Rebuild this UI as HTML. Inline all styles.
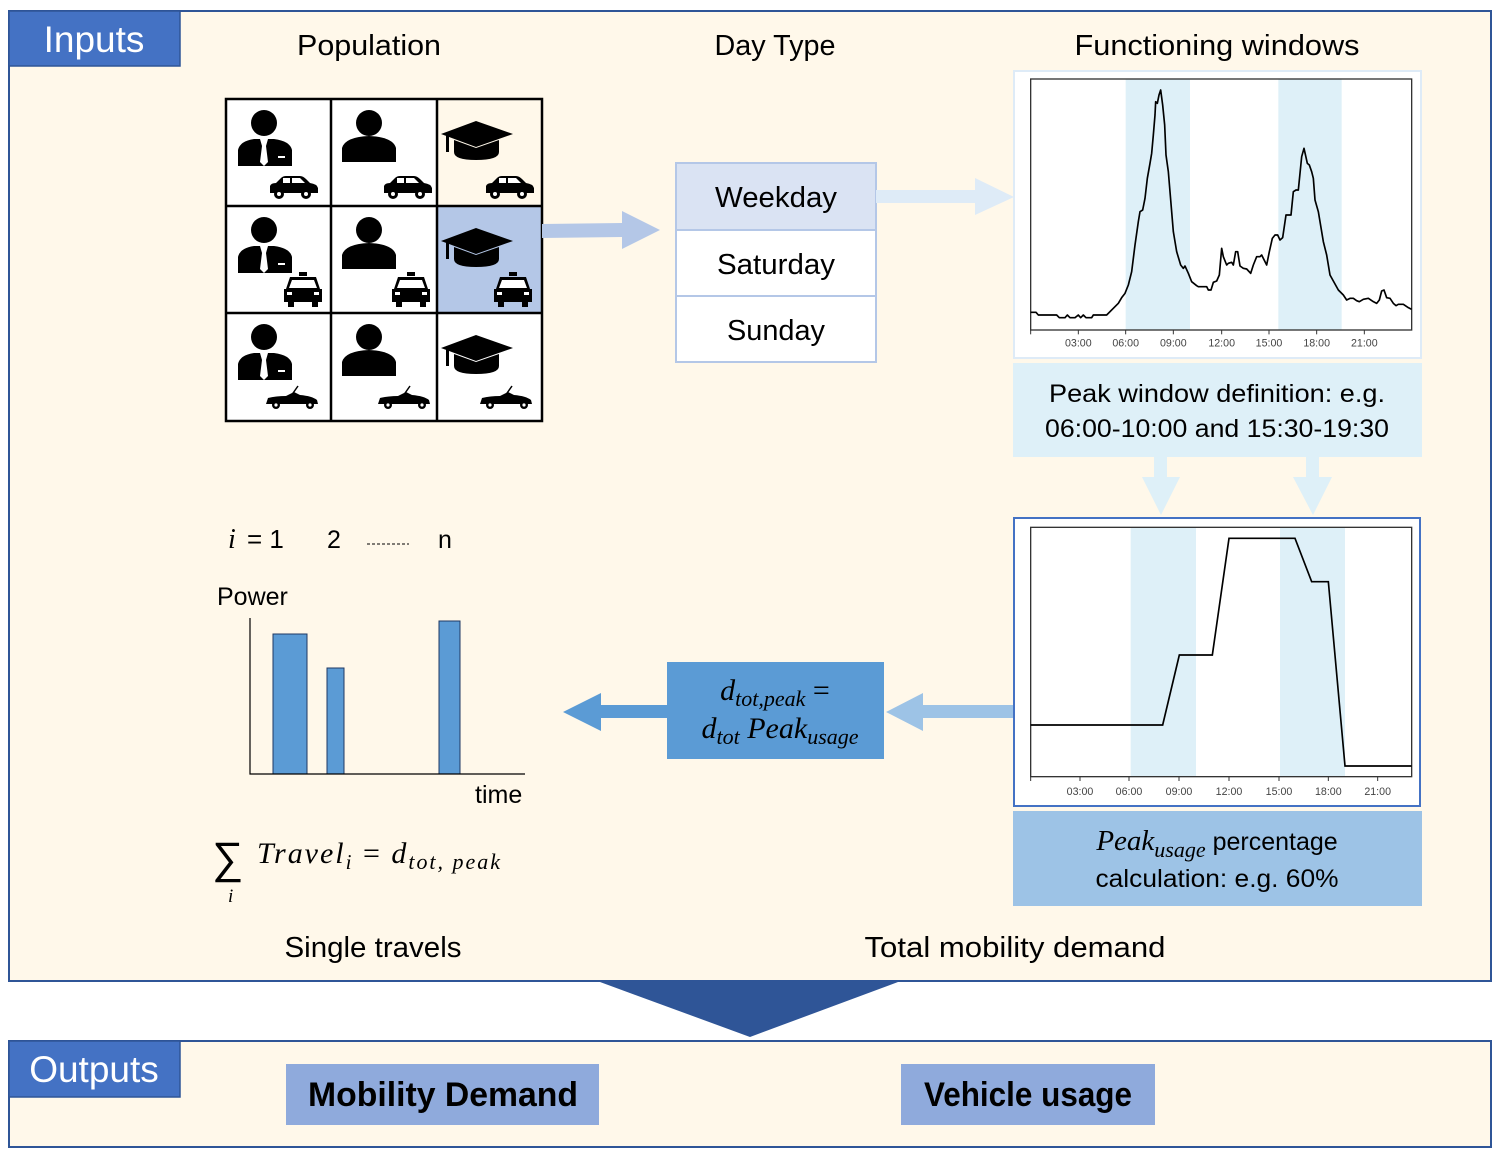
<!DOCTYPE html>
<html><head><meta charset="utf-8"><style>
html,body{margin:0;padding:0;background:#fff;}
svg{display:block;}
text{font-family:"Liberation Sans",sans-serif;}
.m{font-family:"Liberation Serif",serif;font-style:italic;}
</style></head><body>
<svg width="1493" height="1149" viewBox="0 0 1493 1149" xmlns="http://www.w3.org/2000/svg">
<defs>
<g id="biz"><circle cx="38" cy="25" r="13"/><path d="M12 68 L12 52 Q14 43 28 41 L34 41 L36 48 L34 64 L38 68 L42 64 L40 48 L42 41 L48 41 Q64 43 66 52 L66 68 Z"/><rect x="52" y="58" width="7" height="2" fill="#fff"/></g>
<g id="per"><circle cx="38" cy="25" r="13"/><path d="M11 64 L11 50 Q14 39 38 38 Q62 39 65 50 L65 64 Z"/></g>
<g id="cap"><polygon points="5,36 40,23 77,36 40,49"/><rect x="10" y="37" width="3" height="17"/><path d="M18 42 L40 50 L63 42 L63 54 Q63 62 40 62 Q18 62 18 54 Z"/></g>
<g id="car"><path d="M46 95 L46 88 Q47 85 52 85 L57 80 Q59 78 62 78 L76 78 Q79 78 82 81 L86 85 Q93 86 94 90 L94 95 Z"/><circle cx="55" cy="96" r="5"/><circle cx="82" cy="96" r="5"/><circle cx="55" cy="96" r="2" fill="#fff"/><circle cx="82" cy="96" r="2" fill="#fff"/><rect x="59" y="80" width="7" height="5" fill="#fff"/><path d="M68 80 L76 80 L81 85 L68 85Z" fill="#fff"/></g>
<g id="taxi"><rect x="73" y="67" width="8" height="4"/><path d="M64 72 L90 72 L94 84 L96 84 L96 97 L58 97 L58 84 L60 84 Z"/><rect x="62" y="96" width="6" height="6"/><rect x="86" y="96" width="6" height="6"/><path d="M66 75 L88 75 L91 83 L63 83 Z" fill="#fff"/><rect x="61" y="87" width="5" height="3" fill="#fff"/><rect x="88" y="87" width="5" height="3" fill="#fff"/></g>
<g id="conv"><path d="M40 92 L42 86 Q50 84 60 84 L68 80 L74 83 Q86 84 91 88 L92 92 Z"/><line x1="65" y1="84" x2="72" y2="74" stroke="#000" stroke-width="1.5"/><circle cx="50" cy="93" r="4"/><circle cx="84" cy="93" r="4"/><circle cx="50" cy="93" r="1.6" fill="#fff"/><circle cx="84" cy="93" r="1.6" fill="#fff"/></g>
</defs>

<rect x="9" y="11" width="1482" height="970" fill="#FFF8EA" stroke="#2F5597" stroke-width="2"/>
<rect x="9" y="11" width="171" height="55" fill="#4472C4" stroke="#2F5597" stroke-width="1.5"/>
<text x="94" y="52" font-size="37" fill="#fff" text-anchor="middle">Inputs</text>

<text x="369" y="55" font-size="29" text-anchor="middle" textLength="144" lengthAdjust="spacingAndGlyphs">Population</text>
<text x="775" y="55" font-size="29" text-anchor="middle" textLength="121" lengthAdjust="spacingAndGlyphs">Day Type</text>
<text x="1217" y="55" font-size="29" text-anchor="middle" textLength="285" lengthAdjust="spacingAndGlyphs">Functioning windows</text>

<rect x="226" y="99" width="316" height="322" fill="#fff"/>
<rect x="437" y="99" width="105" height="107" fill="#FFF8EA"/>
<rect x="437" y="206" width="105" height="107" fill="#B4C7E7"/>
<g stroke="#000" stroke-width="2.5" fill="none">
<rect x="226" y="99" width="316" height="322"/>
<line x1="331" y1="99" x2="331" y2="421"/><line x1="437" y1="99" x2="437" y2="421"/>
<line x1="226" y1="206" x2="542" y2="206"/><line x1="226" y1="313" x2="542" y2="313"/>
</g>
<g fill="#000">
<use href="#biz" transform="translate(226,98)"/><use href="#per" transform="translate(331,98)"/><use href="#cap" transform="translate(436,98)"/>
<use href="#car" transform="translate(224,98)"/><use href="#car" transform="translate(338,98)"/><use href="#car" transform="translate(440,98)"/>
<use href="#biz" transform="translate(226,205)"/><use href="#per" transform="translate(331,205)"/><use href="#cap" transform="translate(436,205)"/>
<use href="#taxi" transform="translate(226,205)"/><use href="#taxi" transform="translate(334,205)"/><use href="#taxi" transform="translate(436,205)"/>
<use href="#biz" transform="translate(226,312)"/><use href="#per" transform="translate(331,312)"/><use href="#cap" transform="translate(436,312)"/>
<use href="#conv" transform="translate(226,312)"/><use href="#conv" transform="translate(338,312)"/><use href="#conv" transform="translate(440,312)"/>
</g>
<polygon points="542,224 622,223 622,211 660,230 622,249 622,237 542,238" fill="#B4C7E7"/>

<rect x="676" y="163" width="200" height="67" fill="#DAE3F3"/>
<rect x="676" y="230" width="200" height="132" fill="#fff"/>
<g stroke="#B4C7E7" stroke-width="2" fill="none"><rect x="676" y="163" width="200" height="199"/><line x1="676" y1="230" x2="876" y2="230"/><line x1="676" y1="296" x2="876" y2="296"/></g>
<text x="776" y="207" font-size="29" text-anchor="middle" textLength="122" lengthAdjust="spacingAndGlyphs">Weekday</text>
<text x="776" y="274" font-size="29" text-anchor="middle" textLength="118" lengthAdjust="spacingAndGlyphs">Saturday</text>
<text x="776" y="340" font-size="29" text-anchor="middle" textLength="98" lengthAdjust="spacingAndGlyphs">Sunday</text>
<polygon points="876,190 975,190 975,178 1014,197 975,215 975,203 876,203" fill="#DEEBF7"/>

<rect x="1014" y="71" width="407" height="287" fill="#fff" stroke="#DEEBF7" stroke-width="2"/>
<svg x="1010" y="65" width="415" height="300" viewBox="0 0 1245 900">
<rect x="347" y="42" width="193" height="753" fill="#DEF0F8"/>
<rect x="805" y="42" width="190" height="753" fill="#DEF0F8"/>
<rect x="62" y="42" width="1143" height="753" fill="none" stroke="#333" stroke-width="4"/>
<polyline fill="none" stroke="#000" stroke-width="5" stroke-linejoin="round" points="62,742 78,742 85,750 140,750 148,758 165,758 172,750 180,758 195,758 205,750 212,758 220,750 228,758 245,758 250,750 290,750 310,730 325,715 335,698 345,685 355,660 365,620 375,540 385,470 390,440 398,435 405,400 412,340 420,295 425,265 430,210 435,150 437,110 442,115 447,90 452,75 458,120 464,180 468,270 475,320 480,380 490,500 500,560 512,600 520,610 525,603 535,625 545,650 560,662 565,665 590,665 595,675 603,675 610,652 620,648 628,630 635,550 640,575 650,600 655,595 665,592 670,600 677,560 683,560 690,603 700,610 710,612 722,625 730,600 740,575 750,575 755,570 760,580 770,600 778,560 787,520 795,510 803,510 810,525 818,518 828,450 843,450 850,380 858,375 865,375 875,275 882,250 892,295 898,300 905,320 910,340 915,405 925,440 940,530 950,570 960,630 970,648 985,675 1000,690 1010,705 1020,700 1030,700 1040,707 1048,710 1060,703 1075,700 1090,710 1100,715 1108,705 1115,678 1122,675 1130,698 1140,700 1150,715 1158,722 1165,718 1180,718 1195,728 1205,733"/>
<g stroke="#333" stroke-width="3"><line x1="62" y1="795" x2="62" y2="808"/><line x1="205" y1="795" x2="205" y2="808"/><line x1="347" y1="795" x2="347" y2="808"/><line x1="490" y1="795" x2="490" y2="808"/><line x1="635" y1="795" x2="635" y2="808"/><line x1="777" y1="795" x2="777" y2="808"/><line x1="920" y1="795" x2="920" y2="808"/><line x1="1063" y1="795" x2="1063" y2="808"/></g>
<g font-size="32" fill="#444" text-anchor="middle"><text x="205" y="845">03:00</text><text x="347" y="845">06:00</text><text x="490" y="845">09:00</text><text x="635" y="845">12:00</text><text x="777" y="845">15:00</text><text x="920" y="845">18:00</text><text x="1063" y="845">21:00</text></g>
</svg>

<rect x="1013" y="363" width="409" height="94" fill="#DEF0F8"/>
<text x="1217" y="402" font-size="25" text-anchor="middle" textLength="336" lengthAdjust="spacingAndGlyphs">Peak window definition: e.g.</text>
<text x="1217" y="437" font-size="25" text-anchor="middle" textLength="344" lengthAdjust="spacingAndGlyphs">06:00-10:00 and 15:30-19:30</text>
<polygon points="1154,457 1167,457 1167,477 1180,477 1161,515 1142,477 1154,477" fill="#DEF0F8"/>
<polygon points="1306,457 1319,457 1319,477 1332,477 1313,515 1293,477 1306,477" fill="#DEF0F8"/>

<rect x="1014" y="518" width="406" height="288" fill="#fff" stroke="#4472C4" stroke-width="2"/>
<svg x="1010" y="510" width="415" height="300" viewBox="0 0 1245 900">
<rect x="362" y="52" width="196" height="748" fill="#DEF0F8"/>
<rect x="810" y="52" width="195" height="748" fill="#DEF0F8"/>
<rect x="62" y="52" width="1143" height="748" fill="none" stroke="#333" stroke-width="4"/>
<polyline fill="none" stroke="#000" stroke-width="5" points="62,645 458,645 508,435 607,435 657,85 855,85 905,215 955,215 1005,768 1205,768"/>
<g stroke="#333" stroke-width="3"><line x1="62" y1="800" x2="62" y2="813"/><line x1="210" y1="800" x2="210" y2="813"/><line x1="357" y1="800" x2="357" y2="813"/><line x1="507" y1="800" x2="507" y2="813"/><line x1="657" y1="800" x2="657" y2="813"/><line x1="807" y1="800" x2="807" y2="813"/><line x1="955" y1="800" x2="955" y2="813"/><line x1="1103" y1="800" x2="1103" y2="813"/></g>
<g font-size="32" fill="#444" text-anchor="middle"><text x="210" y="855">03:00</text><text x="357" y="855">06:00</text><text x="507" y="855">09:00</text><text x="657" y="855">12:00</text><text x="807" y="855">15:00</text><text x="955" y="855">18:00</text><text x="1103" y="855">21:00</text></g>
</svg>

<rect x="1013" y="811" width="409" height="95" fill="#9DC3E6"/>
<text x="1217" y="850" font-size="25" text-anchor="middle"><tspan class="m" font-size="29">Peak</tspan><tspan class="m" font-size="22" dy="7">usage</tspan><tspan dy="-7"> percentage</tspan></text>
<text x="1217" y="887" font-size="25" text-anchor="middle" textLength="243" lengthAdjust="spacingAndGlyphs">calculation: e.g. 60%</text>

<polygon points="1013,705 923,705 923,693 886,712 923,731 923,718 1013,718" fill="#9DC3E6"/>
<rect x="667" y="662" width="217" height="97" fill="#5B9BD5"/>
<polygon points="667,705 601,705 601,693 563,712 601,731 601,718 667,718" fill="#5B9BD5"/>
<text x="775" y="700" font-size="30" text-anchor="middle" class="m">d<tspan font-size="22" dy="6">tot,peak</tspan><tspan dy="-6" font-style="normal"> =</tspan></text>
<text x="780" y="738" font-size="30" text-anchor="middle" class="m">d<tspan font-size="22" dy="6">tot</tspan><tspan dy="-6"> Peak</tspan><tspan font-size="22" dy="6">usage</tspan></text>

<text x="228" y="548" font-size="28" class="m">i</text>
<text x="247" y="548" font-size="26">= 1</text>
<text x="327" y="548" font-size="25">2</text>
<line x1="367" y1="544" x2="409" y2="544" stroke="#000" stroke-width="1" stroke-dasharray="3,2"/>
<text x="438" y="548" font-size="25">n</text>
<text x="217" y="605" font-size="25">Power</text>
<rect x="273" y="634" width="34" height="140" fill="#5B9BD5" stroke="#1F3864" stroke-width="1"/>
<rect x="327" y="668" width="17" height="106" fill="#5B9BD5" stroke="#1F3864" stroke-width="1"/>
<rect x="439" y="621" width="21" height="153" fill="#5B9BD5" stroke="#1F3864" stroke-width="1"/>
<polyline points="250,618 250,774 525,774" fill="none" stroke="#000" stroke-width="1.2"/>
<text x="475" y="803" font-size="25">time</text>
<text x="212" y="873" font-size="44" font-family="DejaVu Sans,sans-serif">∑</text>
<text x="228" y="902" font-size="19" class="m">i</text>
<text x="257" y="863" font-size="30" class="m" textLength="243" lengthAdjust="spacing">Travel<tspan font-size="21" dy="6">i</tspan><tspan dy="-6" font-style="normal"> = </tspan>d<tspan font-size="22" dy="6">tot, peak</tspan></text>

<text x="373" y="957" font-size="29" text-anchor="middle" textLength="177" lengthAdjust="spacingAndGlyphs">Single travels</text>
<text x="1015" y="957" font-size="29" text-anchor="middle" textLength="301" lengthAdjust="spacingAndGlyphs">Total mobility demand</text>

<polygon points="600,982 898,982 750,1037" fill="#2F5597"/>

<rect x="9" y="1041" width="1482" height="106" fill="#FFF8EA" stroke="#2F5597" stroke-width="2"/>
<rect x="9" y="1041" width="171" height="56" fill="#4472C4" stroke="#2F5597" stroke-width="1.5"/>
<text x="94" y="1082" font-size="37" fill="#fff" text-anchor="middle">Outputs</text>
<rect x="286" y="1064" width="313" height="61" fill="#8FAADC"/>
<text x="443" y="1106" font-size="34" font-weight="bold" text-anchor="middle" textLength="270" lengthAdjust="spacingAndGlyphs">Mobility Demand</text>
<rect x="901" y="1064" width="254" height="61" fill="#8FAADC"/>
<text x="1028" y="1106" font-size="34" font-weight="bold" text-anchor="middle" textLength="208" lengthAdjust="spacingAndGlyphs">Vehicle usage</text>
</svg>
</body></html>
